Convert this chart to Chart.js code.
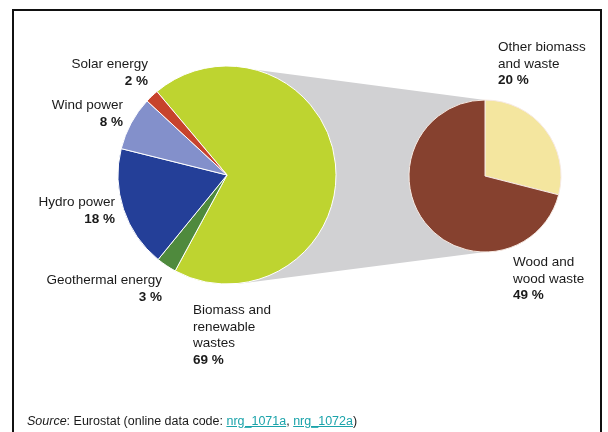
<!DOCTYPE html>
<html>
<head>
<meta charset="utf-8">
<script src="https://cdn.jsdelivr.net/npm/chart.js@4"></script>
<style>
  html, body { margin: 0; padding: 0; background: #fff; }
  #wrap { position: relative; width: 608px; height: 432px; overflow: hidden;
          font-family: "Liberation Sans", Arial, sans-serif; color: #1a1a1a; }
  #wrap canvas { position: absolute; left: 0; top: 0; }
  .frame { position: absolute; left: 12px; top: 9px; width: 590px; height: 440px;
           border: 2px solid #111; box-sizing: border-box; }
  .lbl { position: absolute; font-size: 13.5px; line-height: 16.5px; white-space: nowrap; }
  .lbl b { font-weight: bold; }
  .r { text-align: right; }
  .src { position: absolute; left: 27px; top: 414px; font-size: 12.5px; white-space: nowrap; }
  .src a { color: #1aa3aa; text-decoration: underline; }
</style>
</head>
<body>
<div id="wrap">
  <div class="frame"></div>
  <canvas id="detail" width="608" height="432"></canvas>
  <canvas id="main" width="608" height="432"></canvas>

  <div class="lbl r" style="right:460px; top:56px;">Solar energy<br><b>2 %</b></div>
  <div class="lbl r" style="right:485px; top:97px;">Wind power<br><b>8 %</b></div>
  <div class="lbl r" style="right:493px; top:194px;">Hydro power<br><b>18 %</b></div>
  <div class="lbl r" style="right:446px; top:272px;">Geothermal energy<br><b>3 %</b></div>
  <div class="lbl" style="left:193px; top:302px;">Biomass and<br>renewable<br>wastes<br><b>69 %</b></div>
  <div class="lbl" style="left:498px; top:39px;">Other biomass<br>and waste<br><b>20 %</b></div>
  <div class="lbl" style="left:513px; top:254px;">Wood and<br>wood waste<br><b>49 %</b></div>

  <div class="src"><i>Source</i>: Eurostat (online data code: <a>nrg_1071a</a>, <a>nrg_1072a</a>)</div>
</div>
<script>
// Renewable energy sources, share of total (%)
const sourceLabels = ['Biomass and renewable wastes', 'Geothermal energy', 'Hydro power', 'Wind power', 'Solar energy'];
const sourceShares = [69, 3, 18, 8, 2];
const sourceColors = ['#bed430', '#4f8a3d', '#243f98', '#8390cb', '#c7432c'];

// Breakdown of biomass and renewable wastes (%)
const biomassLabels = ['Other biomass and waste', 'Wood and wood waste'];
const biomassShares = [20, 49];
const biomassColors = ['#f4e69f', '#86412f'];

const common = {
  responsive: false,
  animation: false,
  events: [],
  plugins: { legend: { display: false }, tooltip: { enabled: false } }
};

const mainChart = new Chart(document.getElementById('main'), {
  type: 'pie',
  data: {
    labels: sourceLabels,
    datasets: [{ data: sourceShares, backgroundColor: sourceColors,
                 borderColor: '#ffffff', borderWidth: 1 }]
  },
  options: Object.assign({}, common, {
    rotation: -40,
    radius: 109,
    layout: { padding: { left: 0, right: 154, top: 0, bottom: 82 } }
  })
});

// Grey wedge linking the biomass slice to its breakdown pie
const connector = {
  id: 'connector',
  beforeDatasetsDraw(chart) {
    const a = mainChart.getDatasetMeta(0).data[0];
    const b = chart.getDatasetMeta(0).data[0];
    const ctx = chart.ctx;
    ctx.save();
    ctx.fillStyle = '#d1d1d3';
    ctx.beginPath();
    ctx.moveTo(a.x, a.y - a.outerRadius);
    ctx.lineTo(b.x, b.y - b.outerRadius);
    ctx.lineTo(b.x, b.y + b.outerRadius);
    ctx.lineTo(a.x + 10, a.y + a.outerRadius);
    ctx.closePath();
    ctx.fill();
    ctx.restore();
  }
};

new Chart(document.getElementById('detail'), {
  type: 'pie',
  data: {
    labels: biomassLabels,
    datasets: [{ data: biomassShares, backgroundColor: biomassColors,
                 borderColor: '#f6e9e2', borderWidth: 1 }]
  },
  options: Object.assign({}, common, {
    rotation: 0,
    radius: 76,
    layout: { padding: { left: 362, right: 0, top: 0, bottom: 80 } }
  }),
  plugins: [connector]
});
</script>
</body>
</html>
